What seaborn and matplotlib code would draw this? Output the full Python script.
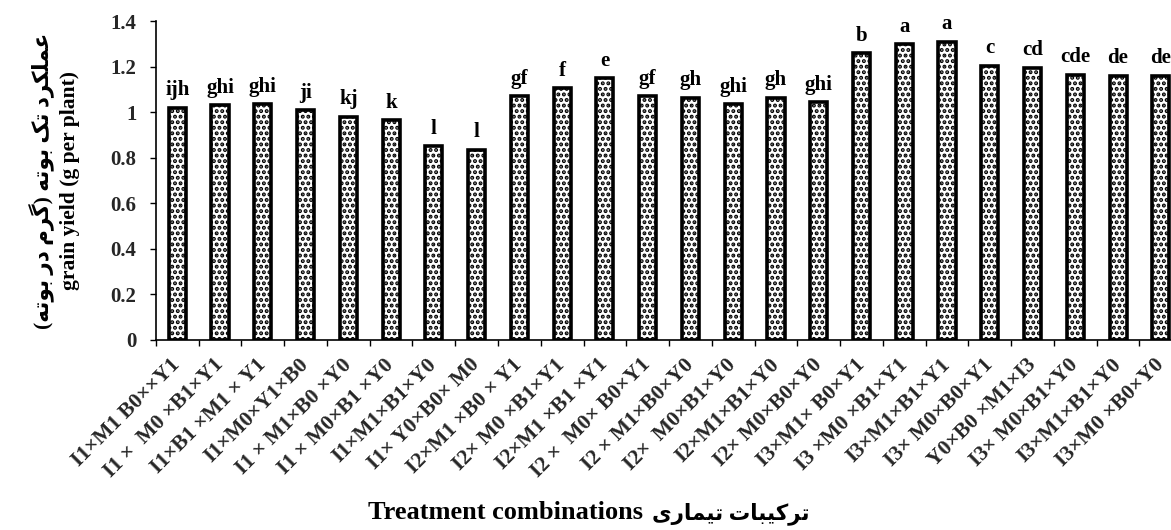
import numpy as np
import pandas as pd
import seaborn as sns
import matplotlib.pyplot as plt
from matplotlib.ticker import FuncFormatter, FixedLocator

# treatment combinations as printed under the bars
treatments = [
    "I1×M1 B0××Y1", "I1 ×  M0 ×B1×Y1", "I1×B1 ×M1 × Y1", "I1×M0×Y1×B0",
    "I1 × M1×B0 ×Y0", "I1 × M0×B1 ×Y0", "I1×M1×B1×Y0", "I1× Y0×B0× M0",
    "I2×M1 ×B0 × Y1", "I2× M0 ×B1×Y1", "I2×M1 ×B1 ×Y1", "I2 ×  M0× B0×Y1",
    "I2 × M1×B0×Y0", "I2×  M0×B1×Y0", "I2×M1×B1×Y0", "I2× M0×B0×Y0",
    "I3×M1× B0×Y1", "I3 ×M0 ×B1×Y1", "I3×M1×B1×Y1", "I3× M0×B0×Y1",
    "Y0×B0 ×M1×I3", "I3× M0×B1×Y0", "I3×M1×B1×Y0", "I3×M0 ×B0×Y0",
]
grain_yield = [
    1.02, 1.03, 1.035, 1.01, 0.98, 0.965, 0.85, 0.835,
    1.07, 1.105, 1.15, 1.07, 1.065, 1.035, 1.065, 1.045,
    1.26, 1.30, 1.31, 1.205, 1.195, 1.165, 1.16, 1.16,
]
letters = [
    "ijh", "ghi", "ghi", "ji", "kj", "k", "l", "l",
    "gf", "f", "e", "gf", "gh", "ghi", "gh", "ghi",
    "b", "a", "a", "c", "cd", "cde", "de", "de",
]
ylabel_fa = "عملکرد تک بوته (گرم در بوته)"
ylabel_en = "grain yield (g per plant)"
xlabel_fa = "ترکیبات تیماری"
xlabel_en = "Treatment combinations"

# matplotlib has no arabic shaping, so pick presentation forms by hand
# (isolated, final, initial, medial); two entries = does not join the next letter
FORMS = {
    "ع": "\uFEC9\uFECA\uFECB\uFECC",
    "م": "\uFEE1\uFEE2\uFEE3\uFEE4",
    "ل": "\uFEDD\uFEDE\uFEDF\uFEE0",
    "ک": "\uFB8E\uFB8F\uFB90\uFB91",
    "گ": "\uFB92\uFB93\uFB94\uFB95",
    "ت": "\uFE95\uFE96\uFE97\uFE98",
    "ب": "\uFE8F\uFE90\uFE91\uFE92",
    "ه": "\uFEE9\uFEEA\uFEEB\uFEEC",
    "ی": "\uFBFC\uFBFD\uFBFE\uFBFF",
    "ر": "\uFEAD\uFEAE",
    "د": "\uFEA9\uFEAA",
    "و": "\uFEED\uFEEE",
    "ا": "\uFE8D\uFE8E",
}


def shape_fa(text):
    out = []
    for i, ch in enumerate(text):
        if ch not in FORMS:
            out.append(ch)
            continue
        prev = text[i - 1] if i > 0 else ""
        nxt = text[i + 1] if i + 1 < len(text) else ""
        join_prev = prev in FORMS and len(FORMS[prev]) == 4
        join_next = len(FORMS[ch]) == 4 and nxt in FORMS
        f = FORMS[ch]
        if join_prev and join_next:
            out.append(f[3])
        elif join_prev:
            out.append(f[1])
        elif join_next:
            out.append(f[2])
        else:
            out.append(f[0])
    vis = "".join(reversed(out))
    return vis.translate(str.maketrans("()", ")("))


sns.set_theme(style="white")
plt.rcParams['font.family'] = ['Liberation Serif', 'DejaVu Sans']
plt.rcParams['font.weight'] = 'bold'
plt.rcParams['hatch.linewidth'] = 2.0
plt.rcParams['hatch.color'] = 'black'

df = pd.DataFrame({"treatment": treatments, "grain_yield": grain_yield})

fig = plt.figure(figsize=(11.71, 5.30), dpi=100)
# the original chart is cropped on the right, so the axes run past the figure edge
ax = fig.add_axes([155.9 / 1171, 190.5 / 530, 1026.3 / 1171, 318.1 / 530])

sns.barplot(data=df, x="treatment", y="grain_yield", ax=ax, color="white",
            saturation=1, width=0.40, edgecolor="black", linewidth=2.6,
            hatch="...", errorbar=None)

for i, (v, lab) in enumerate(zip(grain_yield, letters)):
    ax.text(i, v + 0.055, lab, ha="center", va="baseline", fontsize=15,
            fontweight="bold", color="black")

ax.set_ylim(0, 1.4)
ax.set_xlim(-0.5, len(treatments) - 0.5)
ax.set_yticks(np.arange(0, 1.41, 0.2))
ax.yaxis.set_major_formatter(FuncFormatter(lambda v, p: "{:g}".format(round(v, 1))))
ax.xaxis.set_minor_locator(FixedLocator(np.arange(-0.5, len(treatments), 1.0)))
ax.tick_params(axis="x", which="major", length=0, pad=16)
ax.tick_params(axis="x", which="minor", length=4, width=1, color="black",
               direction="out", bottom=True)
ax.tick_params(axis="y", length=4, width=1, color="black", direction="out",
               left=True, labelsize=15, pad=10)
for lab in ax.get_xticklabels():
    lab.set_rotation(45)
    lab.set_ha("right")
    lab.set_va("center")
    lab.set_rotation_mode("anchor")
    lab.set_fontsize(15.5)
    lab.set_fontweight("bold")
for lab in ax.get_yticklabels():
    lab.set_fontweight("bold")

for side in ["top", "right"]:
    ax.spines[side].set_visible(False)
for side in ["left", "bottom"]:
    ax.spines[side].set_color("black")
    ax.spines[side].set_linewidth(1.2)

ax.set_ylabel(shape_fa(ylabel_fa) + "\n" + ylabel_en, fontsize=15.5,
              fontweight="bold", color="black", labelpad=22, linespacing=1.4)
ax.set_xlabel("")
fig.text(643 / 1171, 0.02, xlabel_en, ha="right", va="baseline",
         fontsize=19, fontweight="bold", color="black")
fig.text(652 / 1171, 0.02, shape_fa(xlabel_fa), ha="left", va="baseline",
         fontsize=15.5, fontweight="bold", color="black")

fig.savefig("out.png", dpi=100)
